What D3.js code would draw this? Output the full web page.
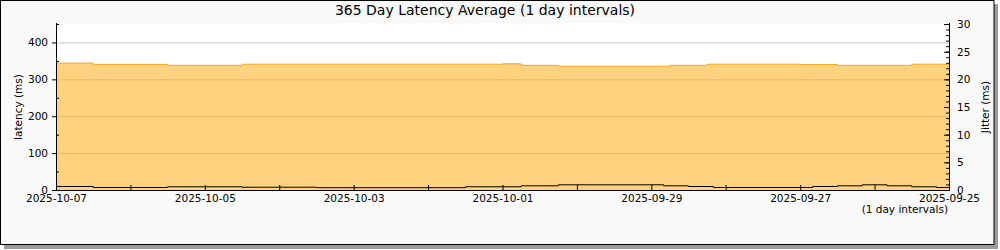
<!DOCTYPE html>
<html><head><meta charset="utf-8">
<script src="https://cdn.jsdelivr.net/npm/d3@7"></script>
<style>body{margin:0;background:#fff}svg{display:block}text{font-family:"DejaVu Sans",sans-serif;fill:#000}</style>
</head><body><svg id="c" width="1000" height="250"></svg>
<script>
const titleText = "365 Day Latency Average (1 day intervals)";
const leftLabel = "latency (ms)";
const rightLabel = "Jitter (ms)";
const intervalNote = "(1 day intervals)";
const xStart = "2025-09-25 00:00";
const xEnd = "2025-10-07 00:00";
const xLabelDates = ["2025-10-07","2025-10-05","2025-10-03","2025-10-01","2025-09-29","2025-09-27","2025-09-25"];
const latencyTicks = [0,100,200,300,400];
const jitterTicks = [0,5,10,15,20,25,30];

// latency: segment start time and value (ms)
const latencyTimes = ["2025-09-25 00:00","2025-09-25 12:00","2025-09-26 12:00","2025-09-27 00:00","2025-09-28 06:00","2025-09-28 18:00","2025-09-30 06:00","2025-09-30 18:00","2025-10-01 00:00","2025-10-04 12:00","2025-10-05 12:00","2025-10-06 12:00"];
const latencyValues = [341,338,340,341,338,335.5,338,342,341,338,340.5,344];

// jitter: segment start time and value (ms)
const jitterTimes = ["2025-09-25 00:00","2025-09-25 04:00","2025-09-25 12:00","2025-09-25 20:00","2025-09-26 04:00","2025-09-26 12:00","2025-09-26 20:00","2025-09-28 04:00","2025-09-28 12:00","2025-09-28 20:00","2025-09-30 06:00","2025-09-30 18:00","2025-10-01 12:00","2025-10-03 12:00","2025-10-04 12:00","2025-10-05 12:00","2025-10-06 12:00"];
const jitterValues = [0.45,0.58,0.76,0.94,0.76,0.63,0.45,0.63,0.76,0.94,0.76,0.58,0.42,0.5,0.58,0.45,0.63];

const parse = d3.timeParse("%Y-%m-%d %H:%M");
const parseDay = d3.timeParse("%Y-%m-%d");
const svg = d3.select("#c");

const L = 56, R = 949, T = 24, B = 190;
const x = d3.scaleTime().domain([parse(xEnd), parse(xStart)]).range([L, R]);
const yL = d3.scaleLinear().domain([0,450]).range([B, T]);
const yR = d3.scaleLinear().domain([0,30]).range([B, T]);

// frame
svg.append("rect").attr("x",4).attr("y",4).attr("width",994).attr("height",245).attr("fill","#9c9c9c");
svg.append("rect").attr("x",0.5).attr("y",0.5).attr("width",993.5).attr("height",244).attr("fill","#f9f9f9").attr("stroke","#000");
svg.append("rect").attr("x",L).attr("y",T-1).attr("width",R-L).attr("height",B-T+1).attr("fill","#fff");

// grid
const grid = svg.append("g").attr("transform",`translate(${L},0)`)
  .call(d3.axisLeft(yL).tickValues(latencyTicks.filter(d=>d>0)).tickSize(-(R-L)).tickFormat(""));
grid.select(".domain").remove();
grid.selectAll("line").attr("stroke","#c8c8c8");

// latency area
const lat = latencyTimes.map((t,i)=>({t:parse(t), v:latencyValues[i]}));
lat.push({t:parse(xEnd), v:latencyValues[latencyValues.length-1]});
svg.append("path").datum(lat)
  .attr("d", d3.area().x(d=>x(d.t)).y0(B).y1(d=>yL(d.v)).curve(d3.curveStepAfter))
  .attr("fill","rgba(255,165,0,0.5)");
svg.append("path").datum(lat)
  .attr("d", d3.line().x(d=>x(d.t)).y(d=>yL(d.v)).curve(d3.curveStepAfter))
  .attr("fill","none").attr("stroke","#f7a81b").attr("stroke-width",1);

// jitter line
const jit = jitterTimes.map((t,i)=>({t:parse(t), v:jitterValues[i]}));
jit.push({t:parse(xEnd), v:jitterValues[jitterValues.length-1]});
svg.append("path").datum(jit)
  .attr("d", d3.line().x(d=>x(d.t)).y(d=>yR(d.v)).curve(d3.curveStepAfter))
  .attr("fill","none").attr("stroke","#000").attr("stroke-width",1);

const fs = "10.5px";
// left axis
const la = svg.append("g").attr("transform",`translate(${L},0)`)
  .call(d3.axisLeft(yL).tickValues(latencyTicks).tickSize(4).tickPadding(4));
la.select(".domain").attr("d",`M0.5,${T-1}V${B}`);
la.selectAll("text").style("font-size",fs);
const lam = svg.append("g").attr("transform",`translate(${L},0)`)
  .call(d3.axisRight(yL).tickValues([50,150,250,350,450]).tickSize(3).tickFormat(""));
lam.select(".domain").remove();

// right axis
const ra = svg.append("g").attr("transform",`translate(${R},0)`)
  .call(d3.axisRight(yR).tickValues(jitterTicks).tickSize(0).tickPadding(8));
ra.select(".domain").attr("d",`M0.5,${T-1}V${B}`);
ra.selectAll("text").style("font-size",fs);
const ram = svg.append("g").attr("transform",`translate(${R},0)`)
  .call(d3.axisLeft(yR).tickValues(d3.range(0,31)).tickSize(3).tickFormat(""));
ram.select(".domain").remove();
const raM = svg.append("g").attr("transform",`translate(${R},0)`)
  .call(d3.axisLeft(yR).tickValues(jitterTicks).tickSize(5).tickFormat(""));
raM.select(".domain").remove();

// x axis
const dayTicks = d3.timeDay.range(parse(xStart), d3.timeDay.offset(parse(xEnd),1));
const xa = svg.append("g").attr("transform",`translate(0,${B})`)
  .call(d3.axisTop(x).tickValues(dayTicks).tickSize(5).tickFormat(""));
xa.select(".domain").attr("d",`M${L},0.5H${R+1}`);
const xl = svg.append("g").attr("transform",`translate(0,${B})`)
  .call(d3.axisBottom(x).tickValues(xLabelDates.map(parseDay)).tickSize(0).tickFormat(d3.timeFormat("%Y-%m-%d")));
xl.select(".domain").remove();
xl.selectAll("text").attr("y",11.5).attr("dy",null).style("font-size",fs);

// texts
svg.append("text").attr("x",485).attr("y",15).attr("text-anchor","middle").style("font-size","14px").text(titleText);
svg.append("text").attr("transform","translate(22,107) rotate(-90)").attr("text-anchor","middle").style("font-size",fs).text(leftLabel);
svg.append("text").attr("transform","translate(989,107) rotate(-90)").attr("text-anchor","middle").style("font-size",fs).text(rightLabel);
svg.append("text").attr("x",948).attr("y",213).attr("text-anchor","end").style("font-size",fs).text(intervalNote);
</script></body></html>
